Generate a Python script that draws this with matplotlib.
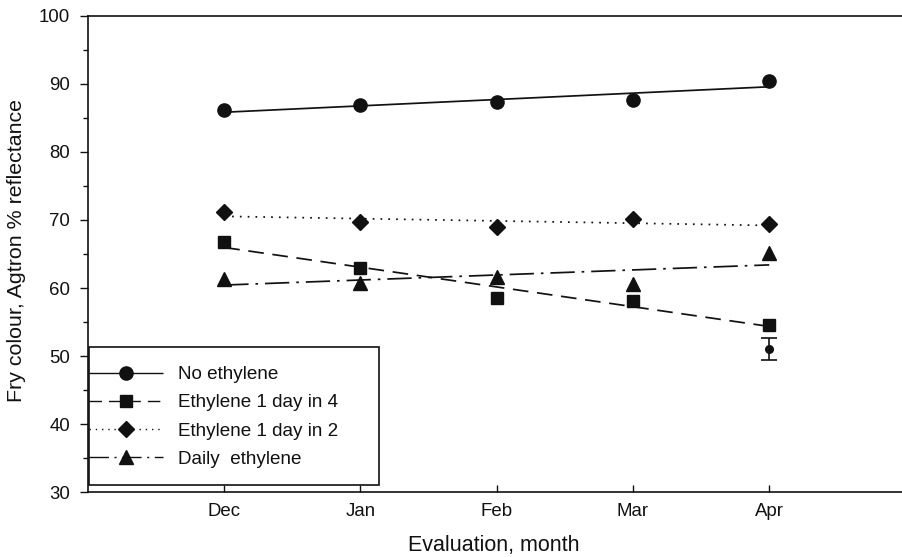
import numpy as np
import matplotlib
matplotlib.use("Agg")
import matplotlib.pyplot as plt
from matplotlib.patches import Rectangle
from matplotlib.lines import Line2D

plt.rcParams['font.family'] = ['Liberation Sans', 'DejaVu Sans']

months = ["Dec", "Jan", "Feb", "Mar", "Apr"]
no_ethylene = [86.15, 86.9, 87.3, 87.65, 90.45]
eth_1_in_4 = [66.7, 62.9, 58.5, 58.1, 54.6]
eth_1_in_2 = [71.2, 69.75, 68.9, 70.1, 69.35]
daily_eth = [61.4, 60.8, 61.6, 60.6, 65.2]
extra_month = "Apr"
extra_value = 51.0
extra_err = 1.6

W, H = 903, 557
fig = plt.figure(figsize=(W / 100, H / 100), dpi=100)
ax_l, ax_r, ax_t, ax_b = 88, 905.5, 15.7, 492.3
ax = fig.add_axes([ax_l / W, (H - ax_b) / H, (ax_r - ax_l) / W, (ax_b - ax_t) / H])

x = np.arange(1, len(months) + 1)
col = '#111111'
fs = 13.4

series = [
    (no_ethylene, 'o', (0, ()), "No ethylene"),
    (eth_1_in_4, 's', (0, (9, 5)), "Ethylene 1 day in 4"),
    (eth_1_in_2, 'D', (0, (1, 3.5)), "Ethylene 1 day in 2"),
    (daily_eth, '^', (0, (14, 4, 1.5, 4)), "Daily  ethylene"),
]
msizes = {'o': 9.5, 's': 9.0, 'D': 8.0, '^': 9.5}
handles = []
for vals, mk, ls, lab in series:
    vals = np.asarray(vals)
    k, b = np.polyfit(x, vals, 1)
    ax.plot(x, k * x + b, color=col, lw=1.25, linestyle=ls, zorder=2)
    ax.plot(x, vals, linestyle='none', marker=mk, ms=msizes[mk], color=col,
            mec=col, zorder=3)
    handles.append(Line2D([], [], color=col, lw=1.0, linestyle=ls, marker=mk,
                          ms=msizes[mk], mec=col))

xi = months.index(extra_month) + 1
ax.errorbar([xi], [extra_value], yerr=[extra_err], fmt='o', ms=5.5, color=col,
            ecolor=col, elinewidth=1.2, capsize=5.8, capthick=1.2, zorder=3)

ax.set_xlim(0, 6)
ax.set_ylim(30, 100)
ax.set_xticks(x)
ax.set_xticklabels(months, fontsize=fs)
ax.set_yticks(np.arange(30, 101, 10))
ax.set_yticks(np.arange(35, 100, 10), minor=True)
ax.tick_params(axis='y', which='major', direction='out', length=6, width=1.0,
               pad=7, labelsize=fs, colors=col)
ax.tick_params(axis='y', which='minor', direction='out', length=3.6, width=1.0,
               colors=col)
ax.tick_params(axis='x', which='major', direction='in', length=5, width=1.0,
               pad=7.5, labelsize=fs, colors=col)
ax.tick_params(axis='x', which='minor', bottom=False)
for s in ['left', 'bottom', 'top']:
    ax.spines[s].set_linewidth(1.2)
    ax.spines[s].set_color(col)
ax.spines['right'].set_visible(False)

ax.set_xlabel("Evaluation, month", fontsize=15.5, color=col)
ax.xaxis.set_label_coords(((494 - ax_l) / (ax_r - ax_l)), -((545 - ax_b) / (ax_b - ax_t)))
ax.xaxis.label.set_va('center')
fig.text(17 / W, 1 - 251 / H, "Fry colour, Agtron % reflectance", rotation=90,
         ha='center', va='center', fontsize=15.4, color=col)

# legend frame
rx0, rx1, ry0, ry1 = 89, 379, 347, 485
rect = Rectangle((rx0 / W, 1 - ry1 / H), (rx1 - rx0) / W, (ry1 - ry0) / H,
                 transform=fig.transFigure, facecolor='white', edgecolor=col,
                 lw=1.2, zorder=5, clip_on=False)
ax.add_patch(rect)
leg = ax.legend(handles, [s[3] for s in series], loc='upper left',
                bbox_to_anchor=(89 / W, 1 - 366 / H), bbox_transform=fig.transFigure,
                frameon=False, fontsize=13.6, borderpad=0, borderaxespad=0,
                handlelength=3.9, handletextpad=0.8, labelspacing=0.58,
                numpoints=1)
leg.set_zorder(6)
for t in leg.get_texts():
    t.set_color(col)

fig.savefig("out.png", dpi=100)
